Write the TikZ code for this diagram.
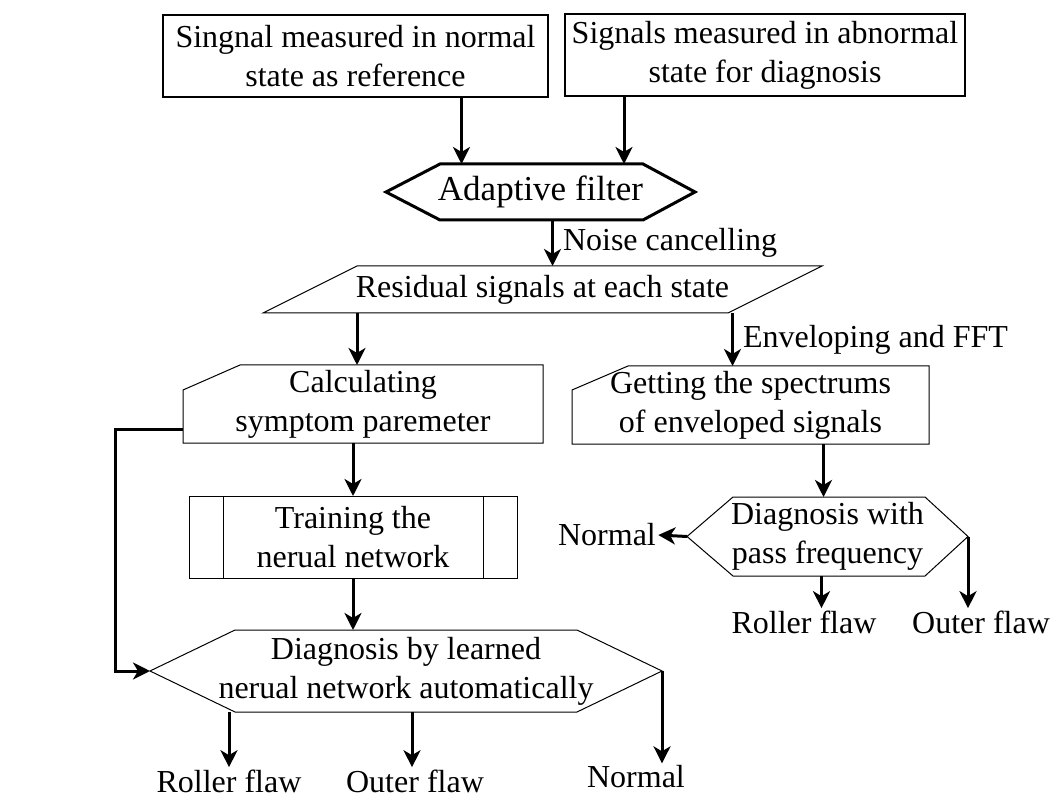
\documentclass[tikz,border=0pt]{standalone}
\usepackage{fontspec}
\setmainfont{Liberation Serif}
\usepackage{tikz}
\usetikzlibrary{arrows.meta}

\begin{document}
\begin{tikzpicture}[x = 0.5pt, y = -0.5pt, font = \fontsize{16}{19.5}\selectfont]
        \tikzstyle{block} = [align = center, inner sep = 0pt, outer sep = 0pt]
        \tikzstyle{flow} = [line width = 1.5pt, -{Stealth[length = 8.5pt, width = 8.5pt, inset = 2.5pt]}]
        \tikzstyle{edge} = [line width = 0.5pt]
        \tikzstyle{label} = [inner sep = 1pt]
        \useasboundingbox (0, 0) rectangle (1054, 796);
        \node[block] (R-1) at (355.5, 56) [minimum width = 192.5pt, minimum height = 41pt, draw, line width = 0.9pt] {Singnal measured in normal\\state as reference};
        \node[block] (R-2) at (765, 55) [minimum width = 200pt, minimum height = 41pt, draw, line width = 0.9pt] {Signals measured in abnormal\\state for diagnosis};
        \node[block] (F) at (540.5, 192) [minimum width = 154.5pt, minimum height = 28pt, font = \fontsize{17.5}{21}\selectfont] {Adaptive filter};
        \node[block] (P) at (542.5, 289.5) [minimum width = 279.5pt, minimum height = 23.5pt] {Residual signals at each state};
        \node[block] (C) at (363, 404) [minimum width = 180pt, minimum height = 39pt] {Calculating\\symptom paremeter};
        \node[block] (S) at (750.5, 405) [minimum width = 178.5pt, minimum height = 39pt] {Getting the spectrums\\of enveloped signals};
        \node[block] (T) at (353, 537) [minimum width = 164pt, minimum height = 41pt, draw, line width = 0.5pt] {Training the\\nerual network};
        \node[block] (D) at (406, 671) [minimum width = 256pt, minimum height = 41pt] {Diagnosis by learned\\nerual network automatically};
        \node[block] (Q) at (827.5, 536.5) [minimum width = 140.5pt, minimum height = 39.5pt] {Diagnosis with\\pass frequency};
        % outcomes
        \node[label] (o-1) at (229, 781) {Roller flaw};
        \node[label] (o-2) at (415, 781) {Outer flaw};
        \node[label] (o-3) at (636, 777) {Normal};
        \node[label] (o-4) at (607, 535) {Normal};
        \node[label] (o-5) at (804, 622) {Roller flaw};
        \node[label] (o-6) at (981, 622) {Outer flaw};
        % outlines
        \draw[line width = 1.5pt] (F.west) -- ([xshift = 27pt]F.north west) -- ([xshift = -26pt]F.north east) -- (F.east) -- ([xshift = -26pt]F.south east) -- ([xshift = 27pt]F.south west) -- cycle;
        \draw[edge] (P.south west) -- ([xshift = 47pt]P.north west) -- (P.north east) -- ([xshift = -47pt]P.south east) -- cycle;
        \draw[edge] ([yshift = -12.5pt]C.north west) -- ([xshift = 28.5pt]C.north west) -- (C.north east) -- (C.south east) -- (C.south west) -- cycle;
        \draw[edge] ([yshift = -12pt]S.north west) -- ([xshift = 28pt]S.north west) -- (S.north east) -- (S.south east) -- (S.south west) -- cycle;
        \draw[edge] ([xshift = 17pt]T.north west) -- ([xshift = 17pt]T.south west);
        \draw[edge] ([xshift = -17pt]T.north east) -- ([xshift = -17pt]T.south east);
        \draw[edge] (D.west) -- ([xshift = 42.5pt]D.north west) -- ([xshift = -42.5pt]D.north east) -- (D.east) -- ([xshift = -42.5pt]D.south east) -- ([xshift = 42.5pt]D.south west) -- cycle;
        \draw[edge] (Q.west) -- ([xshift = 23pt]Q.north west) -- ([xshift = -21.5pt]Q.north east) -- (Q.east) -- ([xshift = -21.5pt]Q.south east) -- ([xshift = 23pt]Q.south west) -- cycle;
        % arrows
        \draw[flow] ([xshift = 53pt]R-1.south) -- ([xshift = 53pt]R-1.south |- F.north);
        \draw[flow] ([xshift = -70.5pt]R-2.south) -- ([xshift = -70.5pt]R-2.south |- F.north);
        \draw[flow] ([xshift = 6pt]F.south) -- ([xshift = 6pt]F.south |- P.north) node[midway, right, inner sep = 4.5pt] {Noise cancelling};
        \draw[flow] ([xshift = -3pt]C.north |- P.south) -- ([xshift = -3pt]C.north);
        \draw[flow] ([xshift = -9pt]S.north |- P.south) -- ([xshift = -9pt]S.north) node[midway, right, inner sep = 4.5pt] {Enveloping and FFT};
        \draw[flow] (C.south -| T.north) -- (T.north);
        \draw[flow] (T.south) -- (T.south |- D.north);
        \draw[flow] ([yshift = -12.5pt]C.west) -| ([xshift = -17.5pt]D.west) -- (D.west);
        \draw[flow] ([xshift = -2pt]Q.north |- S.south) -- ([xshift = -2pt]Q.north);
        \draw[flow] (D.south -| o-1.north) -- (o-1.north);
        \draw[flow] ([xshift = -1.5pt]D.south -| o-2.north) -- ([xshift = -1.5pt]o-2.north);
        \draw[flow] (D.east) -- (D.east |- o-3.north);
        \draw[flow] (Q.west) -- (o-4.east);
        \draw[flow] ([xshift = -3pt]Q.south) -- ([xshift = -3pt]Q.south |- o-5.north);
        \draw[flow] (Q.east) -- (Q.east |- o-6.north);
      \end{tikzpicture}
\end{document}
